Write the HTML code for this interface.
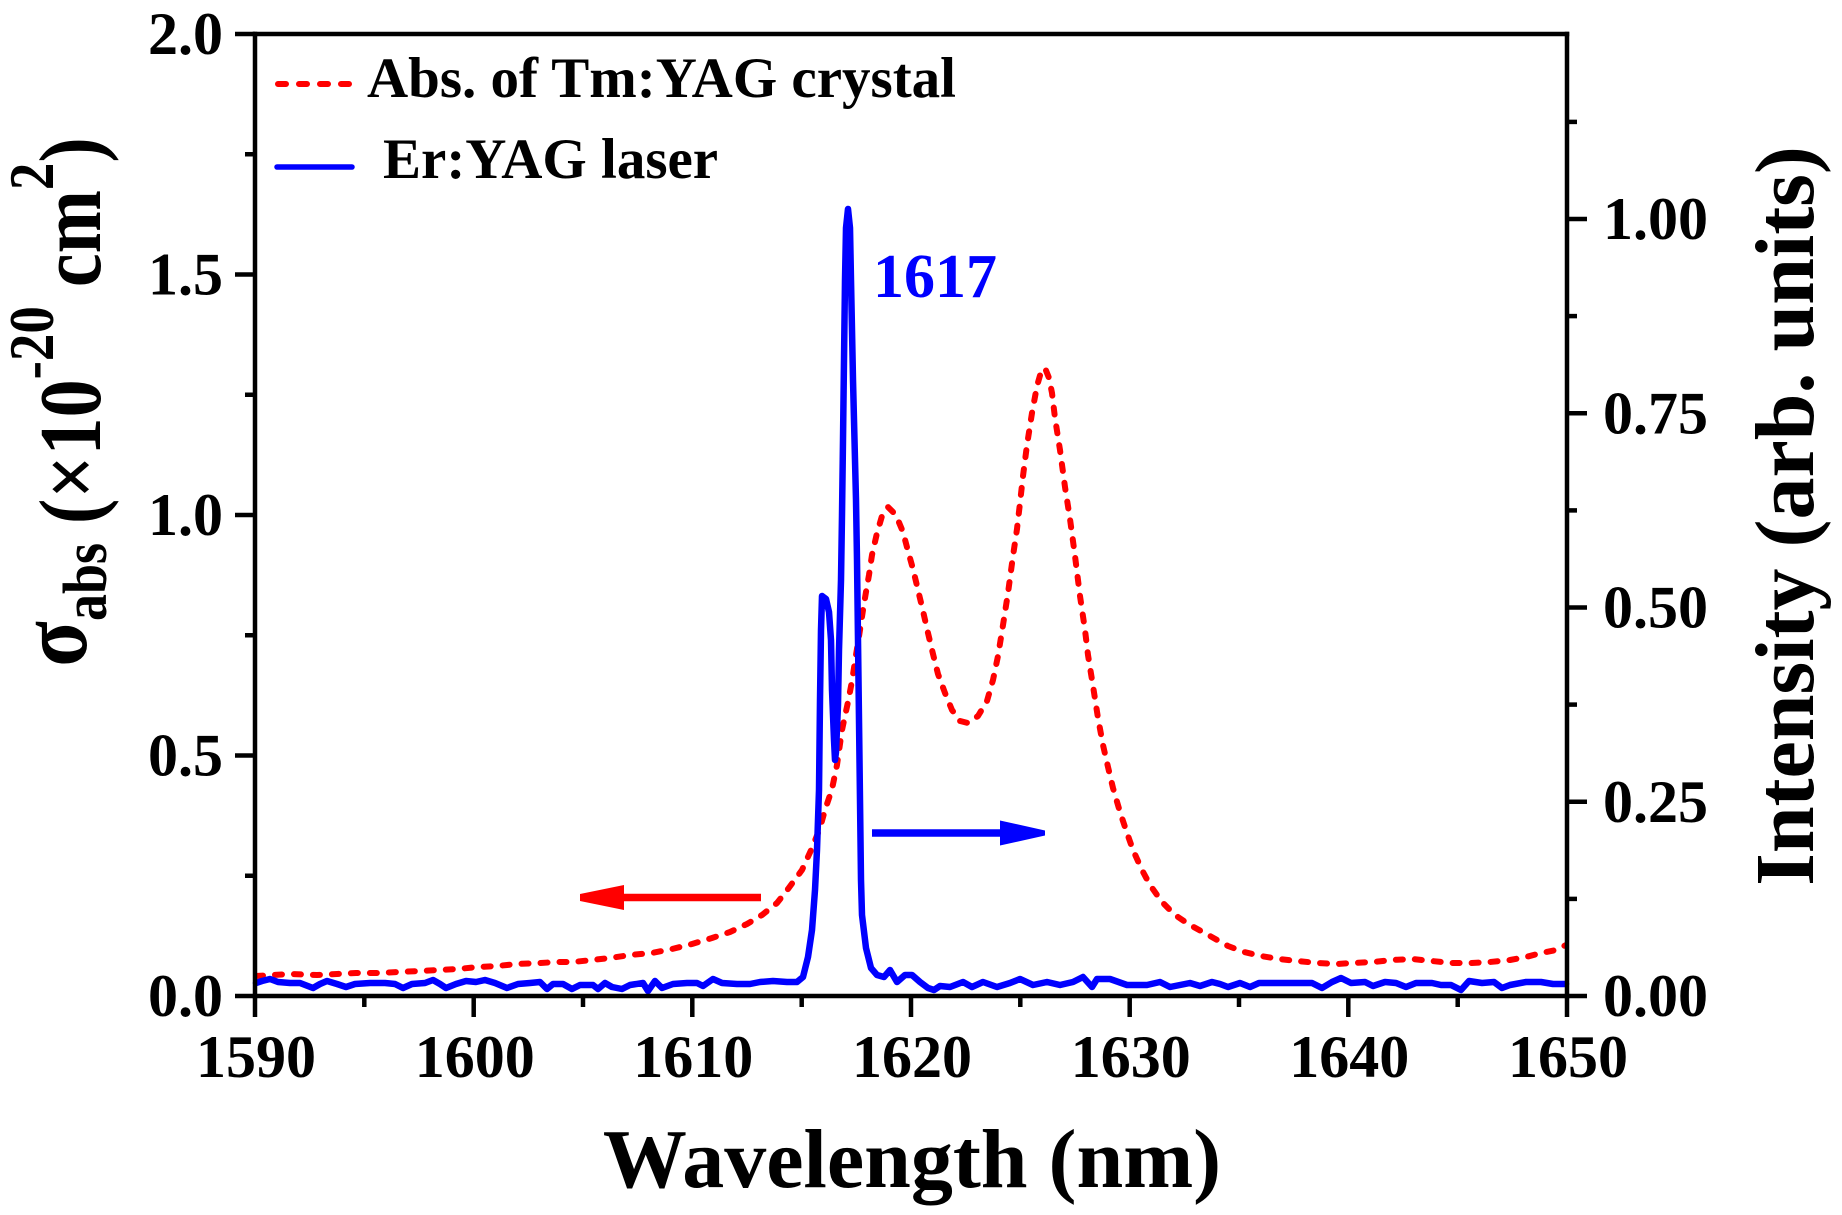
<!DOCTYPE html>
<html>
<head>
<meta charset="utf-8">
<style>
  html, body { margin: 0; padding: 0; background: #ffffff; }
  svg { display: block; }
  text { font-family: "Liberation Serif", "Times New Roman", serif; font-weight: bold; }
</style>
</head>
<body>
<svg xmlns="http://www.w3.org/2000/svg" width="1842" height="1215" viewBox="0 0 1842 1215">
  <rect x="0" y="0" width="1842" height="1215" fill="#ffffff"/>

  <!-- Red dashed absorption curve -->
  <polyline fill="none" stroke="#ff0000" stroke-width="6" stroke-linecap="round" stroke-linejoin="round" stroke-dasharray="7 12"
    points="256,976 290,974 317,975 337,974 356,973 376,973 399,972 419,971 438,970 458,969 478,967 497,966 517,964 540,963 557,962 573,962 592,960 610,958 630,955 652,953 672,949 692,944 712,938 730,932 747,924 762,915 777,903 788,889 802,870 812,848 820,828 825,810 832,789 837,765 842,730 848,702 852,681 856,655 860,630 863,610 866,592 869,575 872,555 877,533 882,516 888,507 893,512 898,520 903,532 908,551 913,569 918,590 923,611 928,633 933,654 938,674 945,693 952,710 960,721 968,723 978,716 987,701 993,680 998,656 1003,625 1008,593 1013,556 1017,529 1020,503 1023,476 1027,445 1032,413 1037,386 1041,372 1045,368 1049,378 1052,393 1055,418 1060,450 1065,487 1070,519 1075,556 1080,596 1085,630 1088,655 1093,686 1098,718 1103,745 1108,767 1113,788 1120,812 1127,833 1133,850 1142,870 1150,885 1162,902 1175,915 1190,925 1210,936 1228,946 1244,952 1261,956 1279,959 1297,961 1318,963 1336,964 1353,963 1373,962 1392,960 1412,959 1432,961 1451,963 1471,963 1490,962 1510,960 1526,957 1541,953 1556,950 1566,945"/>

  <!-- Blue laser spectrum -->
  <polyline fill="none" stroke="#0000ff" stroke-width="6.5" stroke-linecap="round" stroke-linejoin="round"
    points="256,983 262,981 270,979 278,982 290,983 300,983 313,988 320,984 327,981 337,984 346,987 355,984 370,983 385,983 395,984 403,988 412,984 425,983 433,980 440,984 446,988 456,984 466,981 476,982 485,980 495,983 507,988 518,984 530,983 540,982 547,989 553,984 563,984 572,989 580,985 593,985 598,989 605,983 612,987 622,989 630,985 643,983 648,991 655,981 662,988 673,984 687,983 697,983 703,986 713,979 722,983 737,984 750,984 760,982 773,981 787,982 797,982 803,977 808,957 812,930 815,890 817,850 819,790 820,700 821,630 822,596 826,599 829,612 831,640 832,690 834,740 835,760 836,752 838,705 839,650 841,580 842,515 843,440 844,360 845,280 846,228 848,209 850,228 851,280 852,330 853,380 854,420 855,460 856,500 857,560 858,640 859,720 860,800 861,880 862,915 866,948 871,968 877,975 884,977 890,970 897,982 905,975 912,975 920,982 928,988 934,990 940,986 950,987 963,982 972,987 983,982 997,987 1010,983 1020,979 1033,985 1047,982 1060,985 1073,982 1083,977 1092,987 1097,979 1110,979 1127,985 1147,985 1160,982 1170,987 1180,985 1190,983 1200,986 1212,982 1220,984 1228,987 1240,983 1250,987 1259,983 1283,983 1312,983 1322,988 1332,982 1341,978 1351,983 1365,982 1373,986 1385,982 1396,983 1406,987 1416,983 1432,983 1441,985 1451,985 1461,990 1469,981 1482,983 1494,982 1502,988 1510,985 1526,982 1541,982 1553,984 1566,984"/>

  <!-- Arrows -->
  <line x1="620" y1="897.5" x2="761" y2="897.5" stroke="#ff0000" stroke-width="7.5"/>
  <polygon points="624,885 580,894 580,901 624,910" fill="#ff0000"/>
  <line x1="872" y1="833" x2="1004" y2="833" stroke="#0000ff" stroke-width="7.5"/>
  <polygon points="1000,820.5 1045,830.5 1045,835.5 1000,845.5" fill="#0000ff"/>

  <!-- Axes frame -->
  <g stroke="#000000" stroke-width="4.5" fill="none" stroke-linecap="square">
    <line x1="255" y1="34" x2="1567" y2="34"/>
    <line x1="255" y1="34" x2="255" y2="996"/>
    <line x1="1567" y1="34" x2="1567" y2="996"/>
    <line x1="255" y1="996" x2="1567" y2="996"/>
  </g>

  <!-- Ticks -->
  <g stroke="#000000" stroke-width="4.5" fill="none">
    <line x1="235" y1="996" x2="255" y2="996"/>
    <line x1="235" y1="755.5" x2="255" y2="755.5"/>
    <line x1="235" y1="515" x2="255" y2="515"/>
    <line x1="235" y1="274.5" x2="255" y2="274.5"/>
    <line x1="235" y1="34" x2="255" y2="34"/>
    <line x1="245" y1="875.75" x2="255" y2="875.75"/>
    <line x1="245" y1="635.25" x2="255" y2="635.25"/>
    <line x1="245" y1="394.75" x2="255" y2="394.75"/>
    <line x1="245" y1="154.25" x2="255" y2="154.25"/>
    <line x1="1567" y1="996" x2="1587" y2="996"/>
    <line x1="1567" y1="801.75" x2="1587" y2="801.75"/>
    <line x1="1567" y1="607.5" x2="1587" y2="607.5"/>
    <line x1="1567" y1="413.25" x2="1587" y2="413.25"/>
    <line x1="1567" y1="219" x2="1587" y2="219"/>
    <line x1="1567" y1="898.9" x2="1577" y2="898.9"/>
    <line x1="1567" y1="704.6" x2="1577" y2="704.6"/>
    <line x1="1567" y1="510.4" x2="1577" y2="510.4"/>
    <line x1="1567" y1="316.1" x2="1577" y2="316.1"/>
    <line x1="1567" y1="121.9" x2="1577" y2="121.9"/>
    <line x1="255" y1="996" x2="255" y2="1017"/>
    <line x1="473.7" y1="996" x2="473.7" y2="1017"/>
    <line x1="692.3" y1="996" x2="692.3" y2="1017"/>
    <line x1="911" y1="996" x2="911" y2="1017"/>
    <line x1="1129.7" y1="996" x2="1129.7" y2="1017"/>
    <line x1="1348.3" y1="996" x2="1348.3" y2="1017"/>
    <line x1="1567" y1="996" x2="1567" y2="1017"/>
    <line x1="364.3" y1="996" x2="364.3" y2="1007"/>
    <line x1="583" y1="996" x2="583" y2="1007"/>
    <line x1="801.7" y1="996" x2="801.7" y2="1007"/>
    <line x1="1020.3" y1="996" x2="1020.3" y2="1007"/>
    <line x1="1239" y1="996" x2="1239" y2="1007"/>
    <line x1="1457.7" y1="996" x2="1457.7" y2="1007"/>
  </g>

  <!-- Left tick labels -->
  <g font-size="60" text-anchor="end" fill="#000000">
    <text x="223" y="1016">0.0</text>
    <text x="223" y="775.5">0.5</text>
    <text x="223" y="535">1.0</text>
    <text x="223" y="294.5">1.5</text>
    <text x="223" y="54">2.0</text>
  </g>

  <!-- Right tick labels -->
  <g font-size="60" text-anchor="start" fill="#000000">
    <text x="1603" y="1016">0.00</text>
    <text x="1603" y="821.75">0.25</text>
    <text x="1603" y="627.5">0.50</text>
    <text x="1603" y="433.25">0.75</text>
    <text x="1603" y="239">1.00</text>
  </g>

  <!-- Bottom tick labels -->
  <g font-size="60" text-anchor="middle" fill="#000000">
    <text x="256" y="1077">1590</text>
    <text x="474.7" y="1077">1600</text>
    <text x="693.3" y="1077">1610</text>
    <text x="912" y="1077">1620</text>
    <text x="1130.7" y="1077">1630</text>
    <text x="1349.3" y="1077">1640</text>
    <text x="1568" y="1077">1650</text>
  </g>

  <!-- Axis titles -->
  <text x="912" y="1187" font-size="84" text-anchor="middle" fill="#000000">Wavelength (nm)</text>
  <text transform="translate(1813,516) rotate(-90)" font-size="84" text-anchor="middle" fill="#000000">Intensity (arb. units)</text>
  <text transform="translate(100,402) rotate(-90) scale(1,1.15)" font-size="76" text-anchor="middle" fill="#000000"><tspan font-size="84" dy="-12">σ</tspan><tspan font-size="54" dy="17">abs</tspan><tspan dy="-5"> (×10</tspan><tspan font-size="55" dy="-41">-20</tspan><tspan dy="41"> cm</tspan><tspan font-size="55" dy="-41">2</tspan><tspan dy="41">)</tspan></text>

  <!-- Legend -->
  <line x1="278" y1="84" x2="352" y2="84" stroke="#ff0000" stroke-width="6" stroke-linecap="round" stroke-dasharray="8 13"/>
  <text x="367" y="97" font-size="57" fill="#000000">Abs. of Tm:YAG crystal</text>
  <line x1="277" y1="167" x2="352" y2="167" stroke="#0000ff" stroke-width="5.5" stroke-linecap="round"/>
  <text x="383" y="178" font-size="57" fill="#000000">Er:YAG laser</text>

  <!-- Peak annotation -->
  <text x="873" y="297" font-size="62" fill="#0000ff">1617</text>
</svg>
</body>
</html>
